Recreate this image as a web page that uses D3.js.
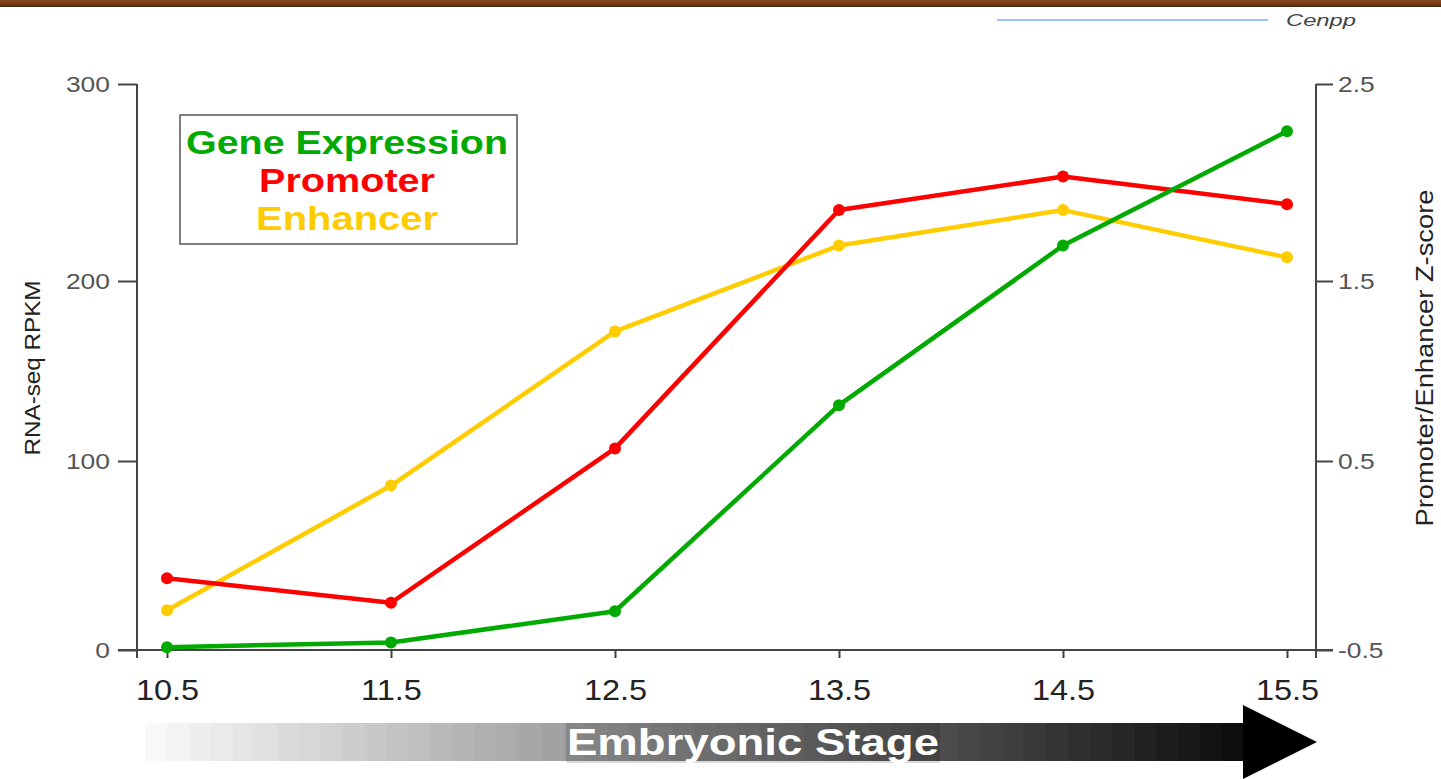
<!DOCTYPE html>
<html>
<head>
<meta charset="utf-8">
<style>
    body { margin: 0; background: #fff; }
    svg { display: block; font-family: "Liberation Sans", Arial, sans-serif; }
</style>
</head>
<body>
<svg width="1441" height="779"></svg>
<script src="https://cdnjs.cloudflare.com/ajax/libs/d3/7.8.5/d3.min.js"></script>
<script>
    // data
    var stages = [10.5, 11.5, 12.5, 13.5, 14.5, 15.5];
    var geneExpression = [1.5, 4, 20.5, 131, 218, 276];      // RNA-seq RPKM (left axis)
    var promoter = [-0.12, -0.25, 0.57, 1.86, 2.03, 1.89];   // Z-score (right axis)
    var enhancer = [-0.29, 0.37, 1.22, 1.68, 1.86, 1.62];    // Z-score (right axis)
    var leftTicks = [0, 100, 200, 300];
    var rightTicks = [-0.5, 0.5, 1.5, 2.5];
    var legendLabels = ["Gene Expression", "Promoter", "Enhancer"];

    var svg = d3.select("svg");
    var green = "#00aa00", red = "#ff0000", yellow = "#ffcc00";

    // the original figure is a bit stretched, so tick spacing is uneven
    var tickPx = [650, 461, 281, 84];
    var x = d3.scaleLinear().domain([10.5, 15.5]).range([167, 1287]);
    var yL = d3.scaleLinear().domain(leftTicks).range(tickPx);
    var yR = d3.scaleLinear().domain(rightTicks).range(tickPx);

    // widen text a little, like the stretched source image
    function stretch(sel, k) {
        sel.each(function() {
            var w = this.getComputedTextLength();
            d3.select(this).attr("textLength", w * k).attr("lengthAdjust", "spacingAndGlyphs");
        });
    }

    // brown strip along the top
    var brown = svg.append("defs").append("linearGradient")
        .attr("id", "brown").attr("x1", 0).attr("x2", 0).attr("y1", 0).attr("y2", 1);
    brown.append("stop").attr("offset", "0%").attr("stop-color", "#8a4a22");
    brown.append("stop").attr("offset", "70%").attr("stop-color", "#6e3210");
    brown.append("stop").attr("offset", "100%").attr("stop-color", "#3a2a18");
    svg.append("rect").attr("x", 0).attr("y", 0).attr("width", 1441).attr("height", 7)
        .attr("fill", "url(#brown)");

    // small header key
    svg.append("line").attr("x1", 997).attr("x2", 1268).attr("y1", 20).attr("y2", 20)
        .attr("stroke", "#9cc3f5").attr("stroke-width", 2);
    svg.append("text").attr("x", 1286).attr("y", 26)
        .attr("font-size", 17).attr("font-style", "italic").attr("fill", "#444")
        .attr("textLength", 70).attr("lengthAdjust", "spacingAndGlyphs")
        .text("Cenpp");

    // axes
    var axisColor = "#444";
    var gL = svg.append("g").attr("transform", "translate(137,0)")
        .call(d3.axisLeft(yL).tickValues(leftTicks).tickSize(19).tickPadding(8)
            .tickFormat(function(d) { return String(d); }));
    var gR = svg.append("g").attr("transform", "translate(1316,0)")
        .call(d3.axisRight(yR).tickValues(rightTicks).tickSize(17).tickPadding(5)
            .tickFormat(function(d) { return d.toFixed(1); }));
    [gL, gR].forEach(function(g) {
        g.select(".domain").remove();
        g.selectAll("line").attr("stroke", axisColor).attr("stroke-width", 2);
        g.selectAll("text").attr("font-size", 22).attr("fill", "#555")
            .attr("font-family", "Liberation Sans, Arial, sans-serif");
        g.append("line").attr("x1", 0).attr("x2", 0).attr("y1", 84).attr("y2", 658)
            .attr("stroke", axisColor).attr("stroke-width", 2);
    });
    stretch(gL.selectAll(".tick text"), 1.2);
    stretch(gR.selectAll(".tick text"), 1.2);

    var gX = svg.append("g").attr("transform", "translate(0,650)")
        .call(d3.axisBottom(x).tickValues(stages).tickSize(8).tickPadding(21)
            .tickFormat(function(d) { return d.toFixed(1); }));
    gX.select(".domain").remove();
    gX.selectAll("line").attr("stroke", axisColor).attr("stroke-width", 2);
    gX.selectAll("text").attr("font-size", 29).attr("fill", "#222")
        .attr("font-family", "Liberation Sans, Arial, sans-serif");
    stretch(gX.selectAll(".tick text"), 1.12);
    gX.append("line").attr("x1", 118).attr("x2", 1333).attr("y1", 0).attr("y2", 0)
        .attr("stroke", axisColor).attr("stroke-width", 2);

    // axis titles
    svg.append("text").attr("transform", "translate(40,368) rotate(-90)")
        .attr("text-anchor", "middle").attr("font-size", 22).attr("fill", "#222")
        .attr("textLength", 175).attr("lengthAdjust", "spacingAndGlyphs")
        .text("RNA-seq RPKM");
    svg.append("text").attr("transform", "translate(1433,358) rotate(-90)")
        .attr("text-anchor", "middle").attr("font-size", 23).attr("fill", "#222")
        .attr("textLength", 337).attr("lengthAdjust", "spacingAndGlyphs")
        .text("Promoter/Enhancer Z-score");

    // series
    var series = [
        { values: enhancer, scale: yR, color: yellow },
        { values: promoter, scale: yR, color: red },
        { values: geneExpression, scale: yL, color: green }
    ];
    series.forEach(function(s) {
        var pts = stages.map(function(d, i) { return [x(d), s.scale(s.values[i])]; });
        svg.append("path").datum(pts)
            .attr("fill", "none").attr("stroke", s.color).attr("stroke-width", 4.5)
            .attr("stroke-linejoin", "round")
            .attr("d", d3.line());
        svg.append("g").selectAll("circle").data(pts).enter().append("circle")
            .attr("cx", function(d) { return d[0]; })
            .attr("cy", function(d) { return d[1]; })
            .attr("r", 6)
            .attr("fill", s.color);
    });

    // legend box
    svg.append("rect").attr("x", 180).attr("y", 115).attr("width", 337).attr("height", 129)
        .attr("fill", "#fff").attr("stroke", "#555").attr("stroke-width", 1.5);
    var legendColors = [green, red, yellow];
    var legendWidths = [322, 176, 182];
    svg.append("g").selectAll("text").data(legendLabels).enter().append("text")
        .attr("x", 347)
        .attr("y", function(d, i) { return 154 + i * 38; })
        .attr("text-anchor", "middle")
        .attr("font-size", 33).attr("font-weight", "bold")
        .attr("fill", function(d, i) { return legendColors[i]; })
        .attr("textLength", function(d, i) { return legendWidths[i]; })
        .attr("lengthAdjust", "spacingAndGlyphs")
        .text(function(d) { return d; });

    // embryonic stage arrow: banded grey bar and black head
    var barX0 = 145, barX1 = 1243, nBands = 50;
    var bandW = (barX1 - barX0) / nBands;
    var shade = d3.scaleLinear().domain([0, nBands - 1]).range([248, 14]);
    svg.append("g").selectAll("rect").data(d3.range(nBands)).enter().append("rect")
        .attr("x", function(d) { return barX0 + d * bandW; })
        .attr("y", 723)
        .attr("width", bandW + 0.6)
        .attr("height", 38)
        .attr("fill", function(d) { var v = Math.round(shade(d)); return d3.rgb(v, v, v); });
    svg.append("rect").attr("x", 566).attr("y", 723).attr("width", 374).attr("height", 40)
        .attr("fill", "#000").attr("fill-opacity", 0.14);
    svg.append("path")
        .attr("d", "M1243,705 L1317,742 L1243,779 Z")
        .attr("fill", "#000");
    svg.append("text").attr("x", 753).attr("y", 755)
        .attr("text-anchor", "middle").attr("font-size", 37).attr("font-weight", "bold")
        .attr("fill", "#fff").attr("textLength", 372).attr("lengthAdjust", "spacingAndGlyphs")
        .text("Embryonic Stage");
</script>
</body>
</html>
